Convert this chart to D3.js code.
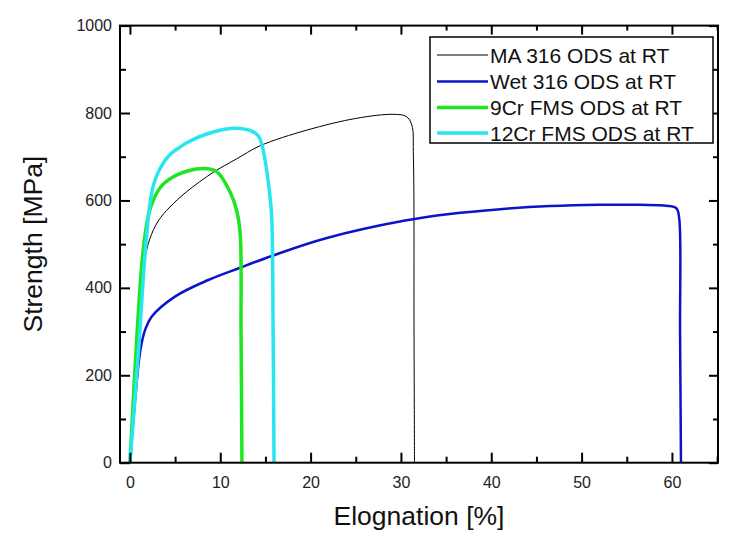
<!DOCTYPE html>
<html><head><meta charset="utf-8">
<script src="https://cdn.jsdelivr.net/npm/d3@7/dist/d3.min.js"></script>
<style>
body{margin:0;background:#fff;}
svg text{font-family:"Liberation Sans",Arial,sans-serif;}
</style></head>
<body><svg id="c" width="733" height="548"></svg>
<script>
// ---- data ----
const xMajorTicks = [0, 10, 20, 30, 40, 50, 60];
const xMinorTicks = [5, 15, 25, 35, 45, 55, 65];
const yMajorTicks = [0, 200, 400, 600, 800, 1000];
const yMinorTicks = [100, 300, 500, 700, 900];

const seriesNames = ["MA 316 ODS at RT", "Wet 316 ODS at RT", "9Cr FMS ODS at RT", "12Cr FMS ODS at RT"];
const seriesColors = ["#000000", "#0a14c8", "#1ee61e", "#28e6f0"];
const seriesWidths = [1, 2.5, 3.5, 3.5];

const ma316X = [0, 1.3, 1.66, 2.2, 3.13, 4.43, 6.28, 9.2, 11.8, 14.4, 19.6, 25.1, 29.2, 30.6, 31.2, 31.38, 31.45, 31.5];
const ma316Y = [0, 430, 468, 512, 553, 585, 620, 664, 695, 725, 761, 788, 797, 792, 773, 700, 300, 0];

const wet316X = [0, 1.0, 1.29, 1.7, 2.4, 4.98, 8.67, 12.18, 15.7, 21.6, 30.45, 35.4, 41, 46.5, 52, 56.5, 59.4, 60.5, 60.8, 60.9, 61.0];
const wet316Y = [0, 235, 273, 305, 334, 380, 418, 446, 473, 513, 554, 569, 580, 587, 590, 590, 588, 582, 560, 300, 0];

const cr9X = [0, 0.74, 1.3, 1.7, 2.2, 3.3, 4.8, 6.5, 8.1, 9.6, 11.07, 11.8, 12.2, 12.3, 12.4];
const cr9Y = [0, 280, 450, 525, 578, 628, 654, 668, 673, 666, 620, 578, 525, 300, 0];

const cr12X = [0, 1.0, 1.5, 1.85, 2.2, 2.6, 3.3, 4.43, 5.54, 6.28, 8.5, 11.44, 13.65, 14.3, 14.8, 15.2, 15.5, 15.7, 15.85, 15.95];
const cr12Y = [0, 270, 430, 520, 590, 635, 672, 705, 722, 732, 752, 765, 757, 745, 710, 660, 610, 560, 300, 0];

const seriesX = [ma316X, wet316X, cr9X, cr12X];
const seriesY = [ma316Y, wet316Y, cr9Y, cr12Y];

// ---- layout ----
const L = 120, R = 718, T = 25.6, B = 462.7;
const svg = d3.select("#c");
const x = d3.scaleLinear().domain([-1.1, 65.1]).range([L, R]);
const y = d3.scaleLinear().domain([0, 1000]).range([B, T]);

svg.append("clipPath").attr("id","pc").append("rect")
  .attr("x", L).attr("y", T).attr("width", R-L).attr("height", B-T);

// curves
const line = d3.line().x(d => x(d[0])).y(d => y(d[1])).curve(d3.curveCatmullRom.alpha(0.5));
seriesX.forEach((xs, i) => {
  const pts = xs.map((v, j) => [v, seriesY[i][j]]);
  svg.append("path").attr("d", line(pts)).attr("fill","none")
    .attr("stroke", seriesColors[i]).attr("stroke-width", seriesWidths[i])
    .attr("stroke-linejoin","round").attr("clip-path","url(#pc)");
});

// axes
function styleAxis(g){
  g.select(".domain").remove();
  g.selectAll(".tick line").attr("stroke","#000").attr("stroke-width",2);
  g.selectAll(".tick text").attr("fill","#222").style("font-size","16px")
    .style("font-family","'Liberation Sans',Arial,sans-serif");
}
svg.append("g").attr("transform",`translate(0,${B})`)
  .call(d3.axisBottom(x).tickValues(xMajorTicks).tickSize(-10).tickPadding(14).tickFormat(d3.format("d"))).call(styleAxis);
svg.append("g").attr("transform",`translate(0,${B})`)
  .call(d3.axisBottom(x).tickValues(xMinorTicks.filter(v=>x(v)<R)).tickSize(-6).tickFormat("")).call(styleAxis);
svg.append("g").attr("transform",`translate(0,${T})`)
  .call(d3.axisTop(x).tickValues(xMajorTicks).tickSize(-9).tickFormat("")).call(styleAxis);
svg.append("g").attr("transform",`translate(0,${T})`)
  .call(d3.axisTop(x).tickValues(xMinorTicks.filter(v=>x(v)<R)).tickSize(-5).tickFormat("")).call(styleAxis);

svg.append("g").attr("transform",`translate(${L},0)`)
  .call(d3.axisLeft(y).tickValues(yMajorTicks).tickSize(-10).tickPadding(8).tickFormat(d3.format("d"))).call(styleAxis);
svg.append("g").attr("transform",`translate(${L},0)`)
  .call(d3.axisLeft(y).tickValues(yMinorTicks).tickSize(-6).tickFormat("")).call(styleAxis);
svg.append("g").attr("transform",`translate(${R},0)`)
  .call(d3.axisRight(y).tickValues(yMajorTicks).tickSize(-9).tickFormat("")).call(styleAxis);
svg.append("g").attr("transform",`translate(${R},0)`)
  .call(d3.axisRight(y).tickValues(yMinorTicks).tickSize(-5).tickFormat("")).call(styleAxis);

// frame
svg.append("rect").attr("x",L).attr("y",T).attr("width",R-L).attr("height",B-T)
  .attr("fill","none").attr("stroke","#000").attr("stroke-width",2);

// axis titles
svg.append("text").attr("x", 419).attr("y", 525).attr("text-anchor","middle")
  .style("font-size","26.5px").attr("fill","#111").text("Elognation [%]");
svg.append("text").attr("transform",`translate(42,${(T+B)/2}) rotate(-90)`).attr("text-anchor","middle")
  .style("font-size","26.5px").attr("fill","#111").text("Strength [MPa]");

// legend
const lg = svg.append("g");
lg.append("rect").attr("x",430).attr("y",37).attr("width",283).attr("height",106)
  .attr("fill","#fff").attr("stroke","#000").attr("stroke-width",1.5);
const rowY = [55, 81.5, 107.5, 133];
seriesNames.forEach((n, i) => {
  lg.append("line").attr("x1",437).attr("x2",488).attr("y1",rowY[i]).attr("y2",rowY[i])
    .attr("stroke",seriesColors[i]).attr("stroke-width",seriesWidths[i]);
  lg.append("text").attr("x",490).attr("y",rowY[i]+7.5).style("font-size","21px")
    .attr("fill","#111").text(n);
});
</script></body></html>
